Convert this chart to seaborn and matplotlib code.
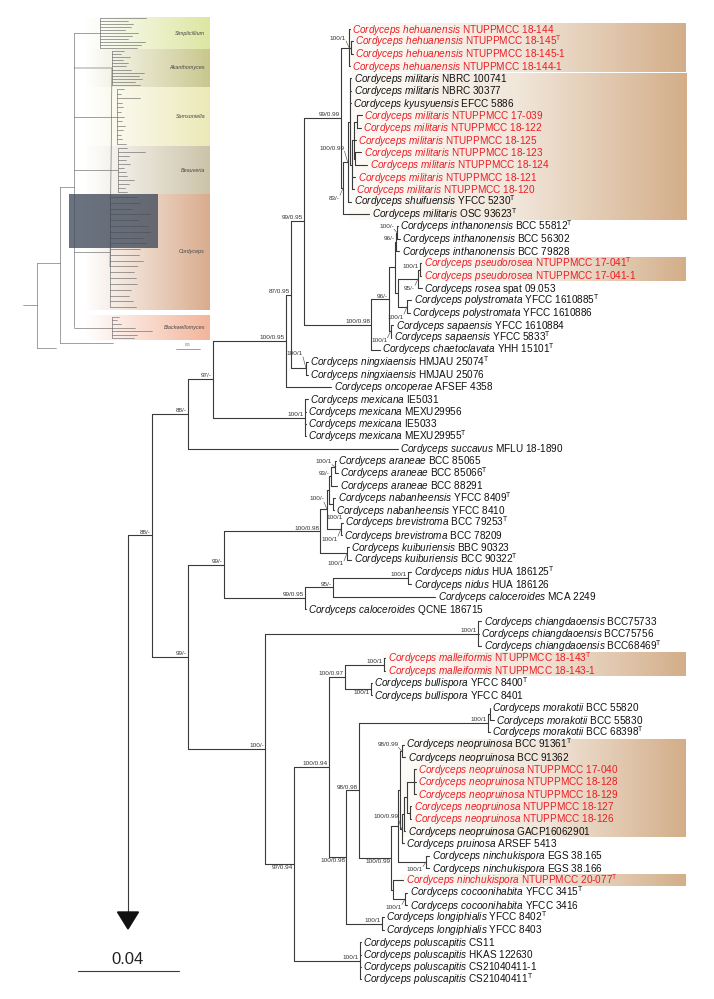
import numpy as np
import pandas as pd
import seaborn as sns
import matplotlib.pyplot as plt
from matplotlib.colors import LinearSegmentedColormap
from matplotlib.patches import Rectangle

# ---- leaves, top to bottom ----
leaf_species = (['hehuanensis'] * 4 + ['militaris', 'militaris', 'kyusyuensis'] + ['militaris'] * 7 +
                ['shuifuensis', 'militaris', 'inthanonensis', 'inthanonensis', 'inthanonensis',
                 'pseudorosea', 'pseudorosea', 'rosea', 'polystromata', 'polystromata', 'sapaensis',
                 'sapaensis', 'chaetoclavata', 'ningxiaensis', 'ningxiaensis', 'oncoperae',
                 'mexicana', 'mexicana', 'mexicana', 'mexicana', 'succavus', 'araneae', 'araneae',
                 'araneae', 'nabanheensis', 'nabanheensis', 'brevistroma', 'brevistroma',
                 'kuiburiensis', 'kuiburiensis', 'nidus', 'nidus', 'caloceroides', 'caloceroides',
                 'chiangdaoensis', 'chiangdaoensis', 'chiangdaoensis', 'malleiformis', 'malleiformis',
                 'bullispora', 'bullispora', 'morakotii', 'morakotii', 'morakotii'] +
                ['neopruinosa'] * 8 +
                ['pruinosa', 'ninchukispora', 'ninchukispora', 'ninchukispora', 'cocoonihabita',
                 'cocoonihabita', 'longiphialis', 'longiphialis'] + ['poluscapitis'] * 4)

leaf_strain = ['NTUPPMCC 18-144', 'NTUPPMCC 18-145', 'NTUPPMCC 18-145-1', 'NTUPPMCC 18-144-1',
               'NBRC 100741', 'NBRC 30377', 'EFCC 5886', 'NTUPPMCC 17-039', 'NTUPPMCC 18-122',
               'NTUPPMCC 18-125', 'NTUPPMCC 18-123', 'NTUPPMCC 18-124', 'NTUPPMCC 18-121',
               'NTUPPMCC 18-120', 'YFCC 5230', 'OSC 93623', 'BCC 55812', 'BCC 56302', 'BCC 79828',
               'NTUPPMCC 17-041', 'NTUPPMCC 17-041-1', 'spat 09.053', 'YFCC 1610885', 'YFCC 1610886',
               'YFCC 1610884', 'YFCC 5833', 'YHH 15101', 'HMJAU 25074', 'HMJAU 25076', 'AFSEF 4358',
               'IE5031', 'MEXU29956', 'IE5033', 'MEXU29955', 'MFLU 18-1890', 'BCC 85065',
               'BCC 85066', 'BCC 88291', 'YFCC 8409', 'YFCC 8410', 'BCC 79253', 'BCC 78209',
               'BBC 90323', 'BCC 90322', 'HUA 186125', 'HUA 186126', 'MCA 2249', 'QCNE 186715',
               'BCC75733', 'BCC75756', 'BCC68469', 'NTUPPMCC 18-143', 'NTUPPMCC 18-143-1',
               'YFCC 8400', 'YFCC 8401', 'BCC 55820', 'BCC 55830', 'BCC 68398', 'BCC 91361',
               'BCC 91362', 'NTUPPMCC 17-040', 'NTUPPMCC 18-128', 'NTUPPMCC 18-129',
               'NTUPPMCC 18-127', 'NTUPPMCC 18-126', 'GACP16062901', 'ARSEF 5413', 'EGS 38.165',
               'EGS 38.166', 'NTUPPMCC 20-077', 'YFCC 3415', 'YFCC 3416', 'YFCC 8402', 'YFCC 8403',
               'CS11', 'HKAS 122630', 'CS21040411-1', 'CS21040411']

# ex-type strains and the new collections (red)
type_leaves = [1, 14, 15, 16, 19, 22, 25, 26, 27, 33, 36, 38, 40, 43, 44, 50, 51, 53, 57, 58,
               69, 70, 72, 77]
new_leaves = [0, 1, 2, 3, 7, 8, 9, 10, 11, 12, 13, 19, 20, 51, 52, 60, 61, 62, 63, 64, 69]

# tip position of each terminal branch (px from left edge)
leaf_tip = [350, 352.5, 352.5, 350, 351, 351, 350.5, 362, 360.5, 356, 361, 367, 355, 354, 351,
            369, 397.5, 400, 399, 421, 421, 422, 411, 410, 393, 391, 380, 308, 307.5, 331,
            308, 306, 306, 306, 398, 336, 338, 337, 335, 333.5, 342.5, 342, 348.5, 351,
            411, 411, 435, 305.5, 481, 478.5, 481, 385, 385, 371.5, 371.5, 489.5, 494, 489.5,
            404, 405, 416, 416, 416, 411, 411, 405, 404, 429, 429, 403, 407, 407, 383.5, 383.5,
            360.5, 360.5, 360.5, 360.5]

# ---- internal nodes: id, depth position, children, support ----
node_id = ['B', 'C', 'D', 'E', 'F', 'G', 'H', 'HEH', 'HEH2', 'I', 'J', 'JI', 'K', 'KA', 'K89',
           'K1112', 'L', 'M', 'N', 'INT', 'INT2', 'O', 'P', 'PSE', 'POL', 'SAP', 'NX', 'MEX',
           'Q', 'R', 'KK', 'NN', 'OO', 'ARA', 'ARA2', 'NAB', 'BRE', 'KUI', 'LL', 'MM2', 'NID',
           'S', 'CHI', 'T', 'U', 'V', 'MAL', 'BUL', 'X', 'Y', 'MOR', 'MOR2', 'Z', 'AA', 'CC',
           'EE', 'FF', 'GG2', 'GG', 'HH', 'II', 'EGS', 'BB', 'COC', 'LON', 'POLU']
node_x = [151.5, 188, 213, 286, 291, 304, 341, 349, 351, 343, 347.5, 349.5, 352, 353.5, 357,
          354.5, 371, 389, 395, 396, 397, 397.5, 418, 419.5, 407, 390.5, 306, 305,
          188, 223.5, 320, 327, 329, 331, 335, 333, 341, 347, 305, 333, 408,
          265, 478, 294, 328.5, 344.5, 384, 371, 346, 358.5, 488, 490, 391, 398, 399.5,
          401.5, 401.5, 403.5, 407, 414, 410, 426, 392.5, 405, 382, 360]
node_kids = [['C', 'Q'], ['D', 34], ['E', 'MEX'], ['F', 29], ['G', 'NX'], ['H', 'L'],
             ['HEH', 'I'], [0, 'HEH2', 3], [1, 2], ['J', 15], ['JI', 14], [4, 5, 6, 'K'],
             ['KA', 12, 13], ['K89', 9, 'K1112'], [7, 8], [10, 11], ['M', 26], ['N', 'SAP'],
             ['INT', 'O'], ['INT2', 18], [16, 17], ['P', 'POL'], ['PSE', 21], [19, 20],
             [22, 23], [24, 25], [27, 28], [30, 31, 32, 33],
             ['R', 'S'], ['KK', 'LL'], ['NN', 'KUI'], ['OO', 'BRE'], ['ARA', 'NAB'],
             ['ARA2', 37], [35, 36], [38, 39], [40, 41], [42, 43], ['MM2', 47], ['NID', 46],
             [44, 45], ['CHI', 'T'], [48, 49, 50], ['U', 'POLU'], ['V', 'X'], ['MAL', 'BUL'],
             [51, 52], [53, 54], ['Y', 'LON'], ['MOR', 'Z'], ['MOR2', 57], [55, 56],
             ['AA', 'BB'], ['CC', 'EGS'], ['EE', 'FF'], [58, 59], ['GG2', 66], ['GG', 65],
             ['HH', 'II'], [60, 61, 62], [63, 64], [67, 68], [69, 'COC'], [70, 71], [72, 73],
             [74, 75, 76, 77]]
node_support = ['88/-', '88/-', '97/-', '100/0.95', '87/0.95', '99/0.95', '99/0.99', '100/1', '',
                '83/-', '100/0.99', '', '', '', '', '', '100/0.98', '96/-', '', '96/-', '100/-',
                '', '95/-', '100/1', '100/1', '100/1', '100/1', '100/1',
                '99/-', '99/-', '100/0.98', '100/-', '', '93/-', '100/1', '100/1', '100/1',
                '100/1', '99/0.95', '95/-', '100/1', '100/-', '100/1', '97/0.94', '100/0.94',
                '100/0.97', '100/1', '100/1', '100/0.98', '98/0.98', '100/1', '', '100/0.99',
                '', '', '98/0.99', '100/0.99', '', '', '', '', '100/1', '', '100/1', '100/1',
                '100/1']

# where the support values sit (style): plain below, with a leader above / below, right-below
labels_below = ['T', 'BUL', 'X', 'Z']
leader_up = {'HEH': 7, 'J': 11, 'NX': 12, 'NN': 8, 'FF': 10, 'EE': 4, 'INT2': 4, 'ARA2': 3}
leader_down = {'I': 8, 'P': 7, 'POL': 8, 'SAP': 7, 'BRE': 8, 'KUI': 8, 'EGS': 5, 'COC': 6}
labels_right_below = ['NAB']

# highlighted clades (first leaf, last leaf)
box_groups = [(0, 3), (4, 15), (19, 20), (51, 52), (58, 65), (69, 69)]

# overview inset (left top)
inset_names = ['Simplicillium', 'Akanthomyces', 'Samsoniella', 'Beauveria', 'Cordyceps',
               'Blackwellomyces']
inset_top = [17, 49, 87, 146, 194, 315]
inset_bottom = [49, 87, 146, 194, 310, 340]
inset_colors = ['#dde6a2', '#c9c78e', '#ece9b8', '#cdc3a9', '#d9ac8d', '#f3b59b']
inset_crown = [100, 112, 117, 118, 110, 112]
inset_tips = [[146, 128, 133, 131, 125, 138, 132, 128, 145, 141, 137],
              [124, 121, 130, 123, 128, 126, 131, 144, 139, 142, 135, 140],
              [124, 121, 140, 122, 123, 121, 124, 122, 125, 123, 121, 122, 126],
              [127, 145, 129, 126, 130, 124, 126, 127, 134, 129, 125, 127],
              [137, 140, 132, 150, 138, 148, 150, 143, 146, 140, 139, 143, 138, 134, 136, 137,
               131, 129, 133, 136],
              [119, 117, 121, 135, 152, 137, 134]]

ROOT_X = 128
Y0, DY = 29, 12.34
PX_PER_UNIT = 101 / 0.04
BOX_RIGHT = 686
LINE = '#3a3a3a'
RED = '#ec1c24'
SUP = dict(fontsize=4.6, color='#333333')

sns.set_theme(style='white')
plt.rcParams['font.family'] = ['Liberation Sans', 'DejaVu Sans']
plt.rcParams['mathtext.fontset'] = 'custom'
plt.rcParams['mathtext.rm'] = 'Liberation Sans'
plt.rcParams['mathtext.it'] = 'Liberation Sans:italic'
plt.rcParams['mathtext.bf'] = 'Liberation Sans:bold'

fig = plt.figure(figsize=(7.14, 9.99), dpi=100)
ax = fig.add_axes([0, 0, 1, 1])

leaf_y = [Y0 + i * DY for i in range(len(leaf_species))]
nx = dict(zip(node_id, node_x))
kids = dict(zip(node_id, node_kids))
sup = dict(zip(node_id, node_support))
ny = {}


def ypos(c):
    if isinstance(c, int):
        return leaf_y[c]
    if c not in ny:
        ny[c] = (ypos(kids[c][0]) + ypos(kids[c][-1])) / 2
    return ny[c]


def xpos(c):
    return leaf_tip[c] if isinstance(c, int) else nx[c]


rows = []


def seg(x0, y0, x1, y1):
    k = len(rows) // 2
    rows.append((k, x0, y0))
    rows.append((k, x1, y1))


for n in node_id:
    ys = [ypos(c) for c in kids[n]]
    seg(nx[n], ys[0], nx[n], ys[-1])
    for c in kids[n]:
        seg(nx[n], ypos(c), xpos(c), ypos(c))

# root: stem to ingroup and arrow down to the outgroups
yb = ypos('B')
arrow_top, arrow_tip = 912, 929
seg(ROOT_X, yb, nx['B'], yb)
seg(ROOT_X, yb, ROOT_X, arrow_top)
seg(ROOT_X - 0.02 * PX_PER_UNIT, 971, ROOT_X + 0.02 * PX_PER_UNIT, 971)

tree_df = pd.DataFrame(rows, columns=['seg', 'x', 'y'])
sns.lineplot(data=tree_df, x='x', y='y', units='seg', estimator=None, sort=False,
             color=LINE, lw=0.8, ax=ax, legend=False)
ax.fill([ROOT_X - 10.5, ROOT_X + 10.5, ROOT_X], [arrow_top, arrow_top, arrow_tip],
        color='#111111', zorder=3)
ax.text(ROOT_X, 964, '0.04', fontsize=12, ha='center', va='baseline', color='#222222')

# highlight boxes
tan = LinearSegmentedColormap.from_list('tan', ['#fdfbf8', '#f1e6da', '#d3ae89'])
grad = np.linspace(0, 1, 256).reshape(1, -1)
for a, b in box_groups:
    x0 = min(leaf_tip[a:b + 1]) - 2
    ax.imshow(grad, extent=[x0, BOX_RIGHT, leaf_y[b] + DY / 2 - 0.6, leaf_y[a] - DY / 2 + 0.6],
              cmap=tan, aspect='auto', zorder=0, interpolation='bilinear')

# leaf labels
for i, sp in enumerate(leaf_species):
    s = f'$\\mathit{{Cordyceps\\ {sp}}}$ {leaf_strain[i]}'
    if i in type_leaves:
        s += '$^{\\mathrm{T}}$'
    ax.text(leaf_tip[i] + 2.5, leaf_y[i] + 3.6, s, fontsize=7.2, va='baseline', ha='left',
            color=RED if i in new_leaves else '#111111', zorder=4)

# support values
for n in node_id:
    if not sup[n]:
        continue
    x, y = nx[n], ypos(n)
    if n in leader_up:
        d = leader_up[n]
        ax.text(x - 3, y - d, sup[n], ha='right', va='bottom', **SUP)
        ax.plot([x - 3, x], [y - d + 0.5, y], color='#555555', lw=0.45)
    elif n in leader_down:
        d = leader_down[n]
        ax.text(x - 3, y + d, sup[n], ha='right', va='top', **SUP)
        ax.plot([x - 3, x], [y + d - 0.5, y], color='#555555', lw=0.45)
    elif n in labels_right_below:
        ax.text(x + 10, y + 10.5, sup[n], ha='right', va='top', **SUP)
    elif n in labels_below:
        ax.text(x - 1, y + 1.2, sup[n], ha='right', va='top', **SUP)
    else:
        ax.text(x - 1, y - 0.8, sup[n], ha='right', va='bottom', **SUP)

# ---- overview inset ----
irows = []
for k, name in enumerate(inset_names):
    top, bot = inset_top[k], inset_bottom[k]
    cm = LinearSegmentedColormap.from_list('b%d' % k, ['#ffffff', inset_colors[k]])
    ax.imshow(grad, extent=[85, 210, bot, top], cmap=cm, aspect='auto', zorder=0,
              interpolation='bilinear')
    ax.text(205, (top + bot) / 2, name, fontsize=3.9, style='italic', ha='right', va='center',
            color='#444444')
    tips = inset_tips[k]
    step = (bot - top) / len(tips)
    tys = [top + (j + 0.5) * step for j in range(len(tips))]
    base = len(irows)
    irows += [(base, inset_crown[k], tys[0]), (base, inset_crown[k], tys[-1])]
    for j, tx in enumerate(tips):
        irows += [(base + j + 1, inset_crown[k], tys[j]), (base + j + 1, tx, tys[j])]
    mid = (tys[0] + tys[-1]) / 2
    irows += [(base + 99, 74, mid), (base + 99, inset_crown[k], mid)]

backbone_x = [74, 60, 37, 23]
backbone_y = [(33, 327), (187, 343), (263, 348), (305, 305)]
for j, x in enumerate(backbone_x):
    irows += [(5000 + j, x, backbone_y[j][0]), (5000 + j, x, backbone_y[j][1])]
irows += [(5100, 60, 187), (5100, 74, 187), (5101, 37, 263), (5101, 60, 263),
          (5102, 23, 305), (5102, 37, 305), (5103, 60, 343), (5103, 113, 343),
          (5104, 37, 348), (5104, 56, 348), (5105, 176, 349), (5105, 200, 349)]
inset_df = pd.DataFrame(irows, columns=['seg', 'x', 'y'])
sns.lineplot(data=inset_df, x='x', y='y', units='seg', estimator=None, sort=False,
             color='#6a6a6a', lw=0.45, ax=ax, legend=False)
ax.text(188, 346.5, '0.05', fontsize=2.2, ha='center', va='bottom', color='#555555')
ax.add_patch(Rectangle((69, 194), 89, 54, facecolor='#3f4a5a', alpha=0.78, lw=0, zorder=3))

ax.set_xlim(0, 714)
ax.set_ylim(999, 0)
ax.axis('off')
fig.savefig('out.png', dpi=100, facecolor='white')
